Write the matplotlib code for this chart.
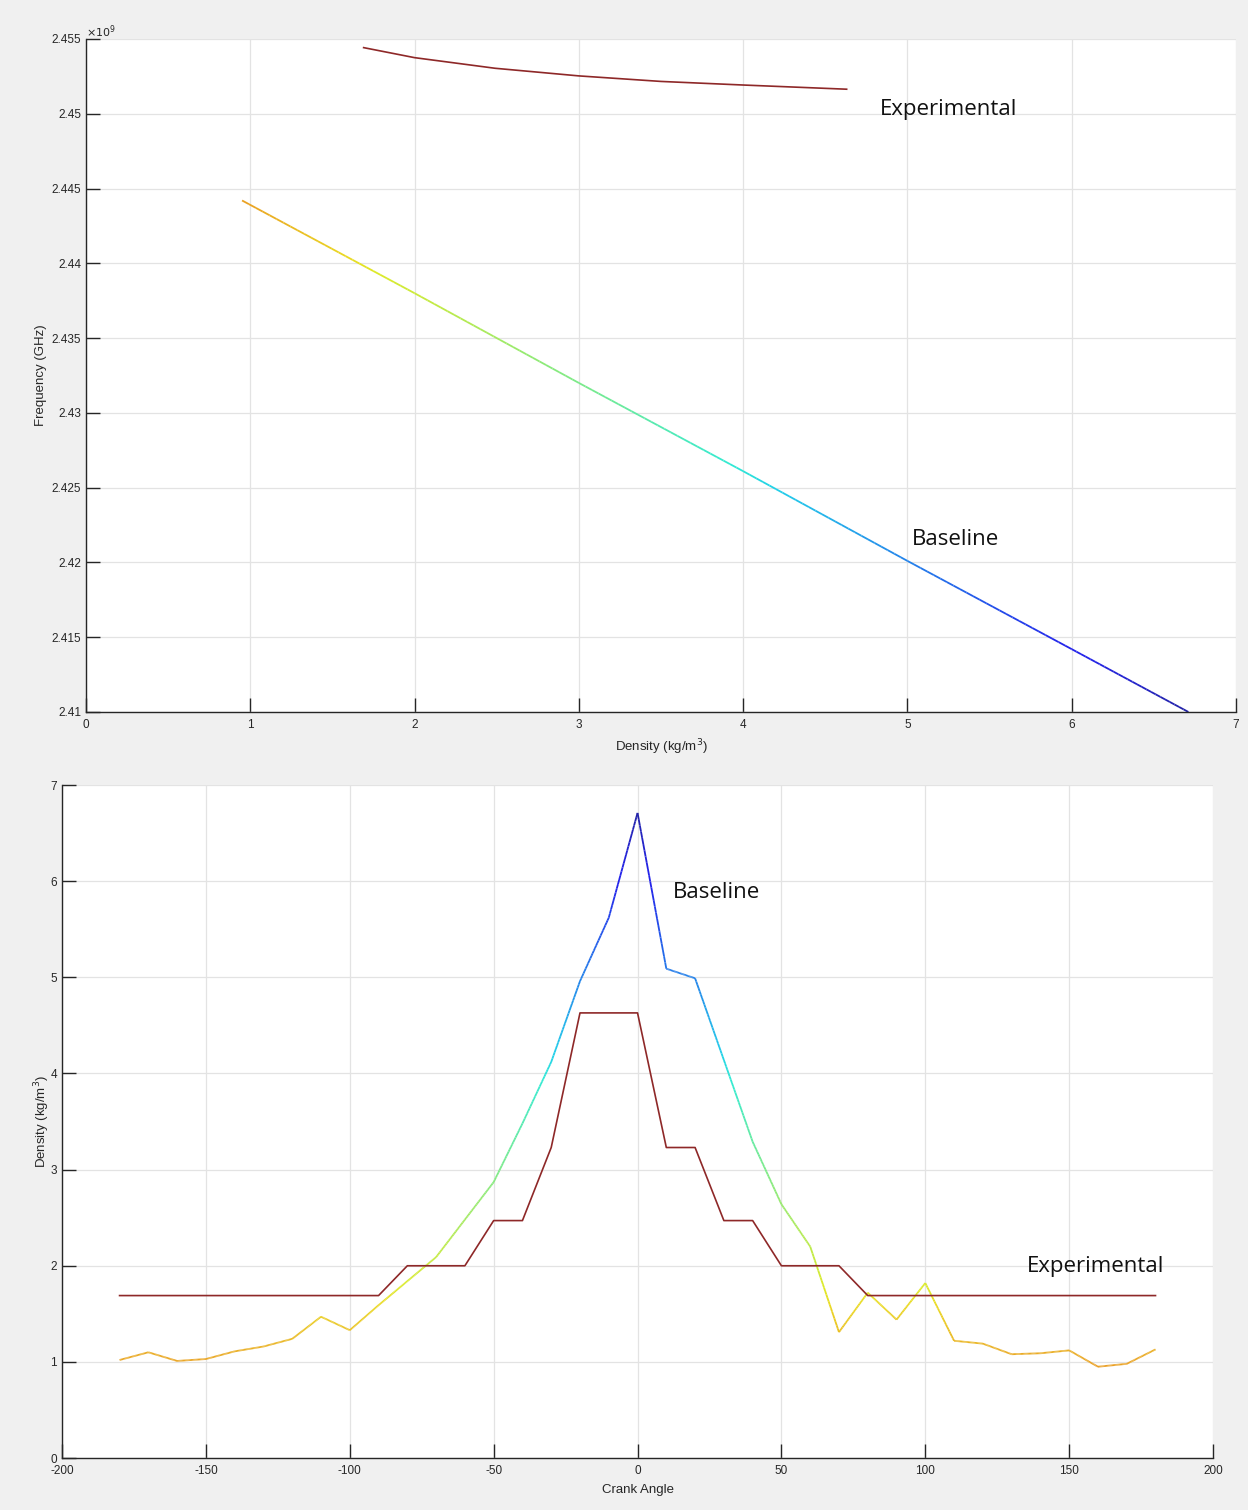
import numpy as np
import matplotlib
matplotlib.use("Agg")
import matplotlib.pyplot as plt
from matplotlib.collections import LineCollection
from matplotlib.colors import Normalize, ListedColormap
from matplotlib.ticker import FuncFormatter

# crank angle sweep (deg)
crank_angle = list(range(-180, 181, 10))

# baseline density (kg/m^3)
baseline_density = [1.02, 1.10, 1.01, 1.03, 1.11, 1.16, 1.24, 1.47, 1.33, 1.59,
                    1.84, 2.09, 2.48, 2.87, 3.48, 4.12, 4.96, 5.62, 6.71, 5.09,
                    4.99, 4.14, 3.29, 2.64, 2.20, 1.31, 1.72, 1.44, 1.82, 1.22,
                    1.19, 1.08, 1.09, 1.12, 0.95, 0.98, 1.13]

# experimental density (kg/m^3)
exp_density = [1.69, 1.69, 1.69, 1.69, 1.69, 1.69, 1.69, 1.69, 1.69, 1.69,
               2.00, 2.00, 2.00, 2.47, 2.47, 3.23, 4.63, 4.63, 4.63, 3.23,
               3.23, 2.47, 2.47, 2.00, 2.00, 2.00, 1.69, 1.69, 1.69, 1.69,
               1.69, 1.69, 1.69, 1.69, 1.69, 1.69, 1.69]

# frequency vs density, upper chart
base_freq_density = [0.95, 2.0, 3.0, 4.0, 5.0, 6.0, 6.71]
base_freq = [2.4442e9, 2.4380e9, 2.4320e9, 2.4261e9, 2.4201e9, 2.4142e9, 2.4100e9]

exp_freq_density = [1.69, 2.0, 2.49, 3.0, 3.5, 4.0, 4.63]
exp_freq = [2.45442e9, 2.45375e9, 2.45304e9, 2.45253e9, 2.45216e9, 2.45192e9, 2.45164e9]

exp_color = "#8e2828"
axis_col = "#262626"
text_font = ["Open Sans", "DejaVu Sans"]

# jet, a little washed out like the thin lines in the screenshot
jet = plt.get_cmap("jet_r")(np.linspace(0, 1, 256))
jet[:, :3] = 0.78 * jet[:, :3] + 0.22 * 0.62
cmap = ListedColormap(jet)
norm = Normalize(vmin=-1.17, vmax=7.0)

plt.rcParams["font.family"] = ["Liberation Sans", "DejaVu Sans"]
plt.rcParams["axes.unicode_minus"] = False


def colored_line(ax, xs, ys, cvals, steps=25):
    # split every segment so the colour changes smoothly along it
    segs = []
    cols = []
    for i in range(len(xs) - 1):
        tx = np.linspace(xs[i], xs[i + 1], steps + 1)
        ty = np.linspace(ys[i], ys[i + 1], steps + 1)
        tc = np.linspace(cvals[i], cvals[i + 1], steps + 1)
        for j in range(steps):
            segs.append([(tx[j], ty[j]), (tx[j + 1], ty[j + 1])])
            cols.append((tc[j] + tc[j + 1]) / 2)
    lc = LineCollection(segs, cmap=cmap, norm=norm, linewidth=1.3)
    lc.set_array(np.array(cols))
    ax.add_collection(lc)


def style(ax):
    ax.grid(True, color="#e3e3e3", linewidth=0.9)
    ax.set_axisbelow(True)
    for s in ["top", "right"]:
        ax.spines[s].set_visible(False)
    for s in ["left", "bottom"]:
        ax.spines[s].set_color(axis_col)
        ax.spines[s].set_linewidth(1.0)
    ax.tick_params(direction="in", length=10, width=1.0, color=axis_col,
                   labelcolor=axis_col, labelsize=8.5)


fig = plt.figure(figsize=(12.48, 15.10), dpi=100, facecolor="#f0f0f0")

# upper chart
ax1 = fig.add_axes([0.0689, 0.5285, 0.9215, 0.4457])
style(ax1)
colored_line(ax1, base_freq_density, base_freq, base_freq_density)
ax1.plot(exp_freq_density, exp_freq, color=exp_color, linewidth=1.2)
ax1.set_xlim(0, 7)
ax1.set_ylim(2.41e9, 2.455e9)
ax1.set_xticks(range(0, 8))
ax1.set_yticks(np.arange(2.41e9, 2.4551e9, 0.005e9))
ax1.yaxis.set_major_formatter(FuncFormatter(lambda v, p: "%g" % round(v / 1e9, 3)))
ax1.tick_params(axis="x", pad=5)
ax1.text(0.0, 0.999, r"$\times10^{9}$", transform=ax1.transAxes, fontsize=8,
         color=axis_col, ha="left", va="bottom")
ax1.set_xlabel("Density (kg/m$^3$)", fontsize=9.5, color=axis_col, labelpad=5)
ax1.set_ylabel("Frequency (GHz)", fontsize=9.5, color=axis_col, labelpad=3)
ax1.text(4.83, 2.4503e9, "Experimental", fontsize=16, family=text_font,
         va="center", color="#111111")
ax1.text(5.03, 2.4215e9, "Baseline", fontsize=16, family=text_font,
         va="center", color="#111111")

# lower chart
ax2 = fig.add_axes([0.0497, 0.0344, 0.9223, 0.4457])
style(ax2)
colored_line(ax2, crank_angle, baseline_density, baseline_density)
ax2.plot(crank_angle, exp_density, color=exp_color, linewidth=1.2)
ax2.set_xlim(-200, 200)
ax2.set_ylim(0, 7)
ax2.set_xticks(range(-200, 201, 50))
ax2.set_yticks(range(0, 8))
ax2.tick_params(axis="x", pad=5)
ax2.set_xlabel("Crank Angle", fontsize=9.5, color=axis_col, labelpad=5)
ax2.set_ylabel("Density (kg/m$^3$)", fontsize=9.5, color=axis_col, labelpad=-1)
ax2.text(12.3, 5.88, "Baseline", fontsize=16, family=text_font,
         va="center", color="#111111")
ax2.text(135.4, 1.99, "Experimental", fontsize=16, family=text_font,
         va="center", color="#111111")

fig.savefig("out.png", dpi=100, facecolor=fig.get_facecolor())
